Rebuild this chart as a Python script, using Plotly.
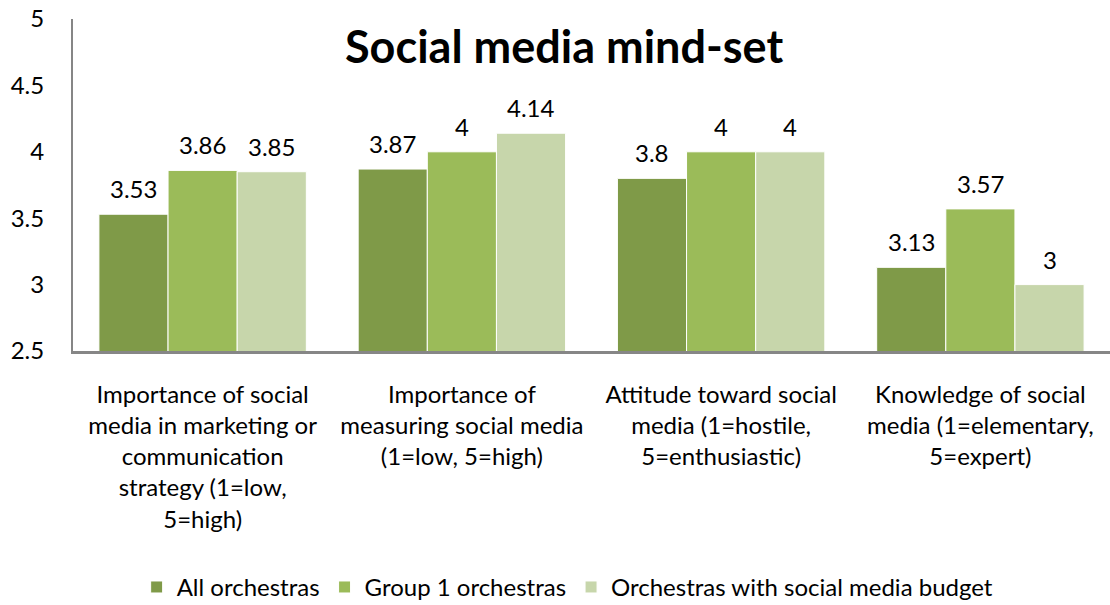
import plotly.graph_objects as go

categories = [
    "Importance of social<br>media in marketing or<br>communication<br>strategy (1=low,<br>5=high)",
    "Importance of<br>measuring social media<br>(1=low, 5=high)",
    "Attitude toward social<br>media (1=hostile,<br>5=enthusiastic)",
    "Knowledge of social<br>media (1=elementary,<br>5=expert)",
]
series_names = ["All orchestras", "Group 1 orchestras", "Orchestras with social media budget"]
all_orch = [3.53, 3.87, 3.8, 3.13]
group1 = [3.86, 4, 4, 3.57]
budget = [3.85, 4.14, 4, 3]
colors = ["#7F9A48", "#9BBB59", "#C7D6AB"]

FONT = "Lato, Liberation Sans, sans-serif"
W, H = 1110, 605
ML, MR, MT, MB = 73, 0, 19, 254
BARGAP = 0.2

fig = go.Figure()
series = [all_orch, group1, budget]
for name, vals, col in zip(series_names, series, colors):
    fig.add_trace(go.Bar(
        name=name, x=categories, y=vals,
        marker=dict(color=col, line=dict(color="white", width=1)),
    ))

# value labels placed above each bar (offset of each bar within its group)
cat_px = (W - ML - MR) / len(categories)
bar_px = cat_px * (1 - BARGAP) / len(series)
annotations = []
for si, vals in enumerate(series):
    xshift = (si - (len(series) - 1) / 2) * bar_px
    for c, v in zip(categories, vals):
        annotations.append(dict(x=c, y=v, xref="x", yref="y", text=f"{v:g}", showarrow=False,
                                xanchor="center", yanchor="bottom", xshift=xshift, yshift=9,
                                font=dict(size=24, family=FONT, color="black")))
annotations.append(dict(text="<b>Social media mind-set</b>", x=0.4735, y=1.005, xref="paper", yref="paper",
                        xanchor="center", yanchor="top", showarrow=False,
                        font=dict(size=45, family=FONT, color="black")))

fig.update_layout(
    width=W, height=H,
    margin=dict(l=ML, r=MR, t=MT, b=MB, autoexpand=False),
    paper_bgcolor="white", plot_bgcolor="white",
    barmode="group", bargap=BARGAP, bargroupgap=0,
    font=dict(family=FONT, size=24, color="black"),
    showlegend=True,
    legend=dict(orientation="h", x=0.477, xanchor="center", y=-0.712, yanchor="middle",
                font=dict(size=24), itemwidth=30, traceorder="normal"),
    annotations=annotations,
)
fig.update_yaxes(range=[2.5, 5], dtick=0.5, showgrid=False, showline=True, linecolor="#868686",
                 linewidth=2, ticks="", zeroline=False, tickfont=dict(size=24), ticklabelstandoff=22,
                 automargin=False)
fig.update_xaxes(showline=True, linecolor="#868686", linewidth=3, ticks="", tickfont=dict(size=24),
                 ticklabelstandoff=20, automargin=False)
fig.write_html("out.html")
